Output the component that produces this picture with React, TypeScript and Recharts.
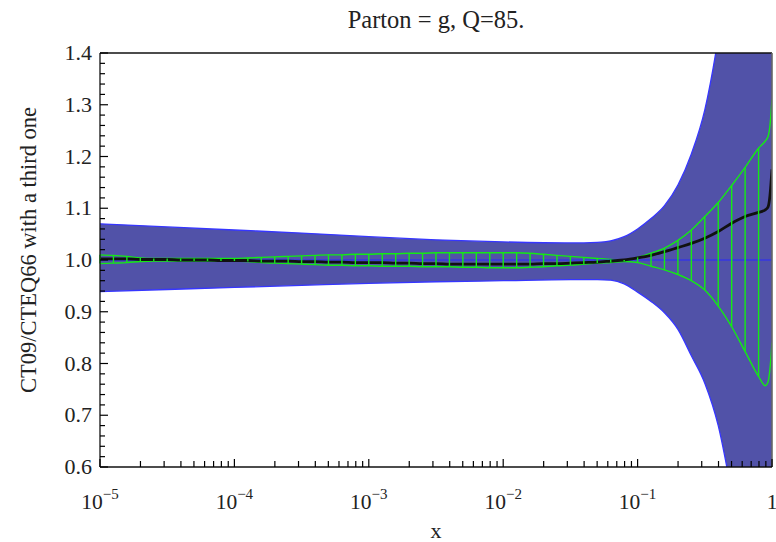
import React from 'react';
import {
  ComposedChart,
  Area,
  Line,
  Scatter,
  ErrorBar,
  XAxis,
  YAxis,
  ReferenceLine,
  Label,
} from 'recharts';

// log10(x) sample points for the green band and the central (black) curve
const logX = [
  -5.0, -4.9, -4.8, -4.7, -4.6, -4.5, -4.4, -4.3, -4.2, -4.1,
  -4.0, -3.9, -3.8, -3.7, -3.6, -3.5, -3.4, -3.3, -3.2, -3.1,
  -3.0, -2.9, -2.8, -2.7, -2.6, -2.5, -2.4, -2.3, -2.2, -2.1,
  -2.0, -1.9, -1.8, -1.7, -1.6, -1.5, -1.4, -1.3, -1.2, -1.1,
  -1.0, -0.9, -0.8, -0.7, -0.6, -0.5, -0.4, -0.3, -0.2, -0.1,
  -0.05, -0.03, -0.015, 0,
];

const greenUpper = [
  1.010, 1.009, 1.007, 1.004, 1.003, 1.003, 1.003, 1.003, 1.003, 1.003,
  1.003, 1.004, 1.005, 1.006, 1.007, 1.008, 1.009, 1.010, 1.010, 1.011,
  1.011, 1.012, 1.012, 1.013, 1.013, 1.014, 1.014, 1.014, 1.014, 1.014,
  1.014, 1.014, 1.013, 1.011, 1.009, 1.007, 1.005, 1.003, 1.001, 1.000,
  1.005, 1.013, 1.023, 1.038, 1.058, 1.084, 1.111, 1.144, 1.179, 1.216,
  1.230, 1.238, 1.260, 1.310,
];

const greenLower = [
  0.993, 0.994, 0.995, 0.997, 0.998, 0.998, 0.998, 0.998, 0.998, 0.998,
  0.998, 0.997, 0.995, 0.994, 0.993, 0.992, 0.991, 0.990, 0.990, 0.989,
  0.989, 0.988, 0.988, 0.988, 0.987, 0.987, 0.987, 0.986, 0.986, 0.985,
  0.985, 0.985, 0.986, 0.987, 0.989, 0.990, 0.992, 0.994, 0.995, 0.997,
  0.995, 0.988, 0.981, 0.972, 0.960, 0.942, 0.911, 0.871, 0.823, 0.775,
  0.757, 0.764, 0.790, 0.840,
];

const centralRatio = [
  1.002, 1.002, 1.002, 1.001, 1.001, 1.001, 1.000, 1.000, 1.000, 0.999,
  0.999, 0.999, 0.998, 0.998, 0.998, 0.997, 0.997, 0.996, 0.996, 0.995,
  0.995, 0.995, 0.994, 0.994, 0.993, 0.993, 0.992, 0.992, 0.992, 0.992,
  0.992, 0.992, 0.992, 0.993, 0.993, 0.994, 0.995, 0.996, 0.998, 1.000,
  1.004, 1.009, 1.016, 1.024, 1.032, 1.042, 1.055, 1.071, 1.084, 1.092,
  1.097, 1.102, 1.125, 1.175,
];

// blue (CTEQ66) uncertainty band
const bandLogX = [
  -5, -4.5, -4, -3.5, -3, -2.5, -2, -1.5, -1.3, -1.2, -1.1,
  -1.0, -0.9, -0.8, -0.7, -0.6, -0.5, -0.4, -0.3, -0.2, -0.1, 0,
];
const bandUpper = [
  1.070, 1.064, 1.058, 1.052, 1.045, 1.039, 1.035, 1.033, 1.034, 1.037, 1.045,
  1.060, 1.080, 1.105, 1.145, 1.205, 1.290, 1.430, 1.620, 1.880, 2.200, 2.600,
];
const bandLower = [
  0.939, 0.943, 0.947, 0.951, 0.955, 0.958, 0.960, 0.962, 0.962, 0.961, 0.954,
  0.938, 0.920, 0.898, 0.866, 0.815, 0.762, 0.680, 0.550, 0.400, 0.250, 0.100,
];

const xDecades = [-5, -4, -3, -2, -1, 0];
const xMinorMultipliers = [2, 3, 4, 5, 6, 7, 8, 9];
const yMajorTicks = [0.6, 0.7, 0.8, 0.9, 1.0, 1.1, 1.2, 1.3, 1.4];
const yMinorOffsets = [0.02, 0.04, 0.06, 0.08];

const FONT = '"Liberation Serif", "Times New Roman", serif';
const BLUE_FILL = '#5152a8';
const BLUE_EDGE = '#3636ff';
const GREEN = '#14ea14';

const bandData = bandLogX.map((lx, i) => ({ lx, range: [bandLower[i], bandUpper[i]] }));
const curveData = logX.map((lx, i) => ({
  lx,
  green: [greenLower[i], greenUpper[i]],
  central: centralRatio[i],
}));
const hatchData = logX
  .map((lx, i) => ({ lx, y: greenLower[i], err: [0, greenUpper[i] - greenLower[i]] }))
  .filter((d) => Math.abs(d.lx * 10 - Math.round(d.lx * 10)) < 1e-9 && d.lx < -0.01);

const xTicks: number[] = [];
xDecades.forEach((d) => {
  xTicks.push(d);
  if (d < 0) xMinorMultipliers.forEach((m) => xTicks.push(d + Math.log10(m)));
});
const yTicks: number[] = [];
yMajorTicks.forEach((t, i) => {
  yTicks.push(t);
  if (i < yMajorTicks.length - 1) yMinorOffsets.forEach((o) => yTicks.push(+(t + o).toFixed(2)));
});

const isInt = (v: number) => Math.abs(v - Math.round(v)) < 1e-9;

const XTick = (props: any) => {
  const { x, y, payload } = props;
  const v = payload.value;
  const major = isInt(v);
  return (
    <g>
      <line x1={x} x2={x} y1={y} y2={y - (major ? 8 : 6)} stroke="#000" strokeWidth={1.2} />
      {major && (
        <text x={x} y={y + 42} textAnchor="middle" fontFamily={FONT} fontSize={21.5} fill="#222">
          {v === 0 ? '1' : '10'}
          {v !== 0 && (
            <tspan dy={-10} fontSize={15}>
              {'\u2212' + Math.abs(Math.round(v))}
            </tspan>
          )}
        </text>
      )}
    </g>
  );
};

const YTick = (props: any) => {
  const { x, y, payload } = props;
  const v = payload.value;
  const major = isInt(v * 10);
  return (
    <g>
      <line x1={x} x2={x + (major ? 8 : 5)} y1={y} y2={y} stroke="#000" strokeWidth={1.2} />
      {major && (
        <text x={x - 8} y={y + 7} textAnchor="end" fontFamily={FONT} fontSize={22} fill="#222">
          {v.toFixed(1)}
        </text>
      )}
    </g>
  );
};

export default function App() {
  return (
    <div style={{ position: 'relative', width: 776, height: 542 }}>
      <style>{'body{margin:0}'}</style>
      <div
        style={{
          position: 'absolute',
          left: 0,
          top: 6,
          width: 872,
          textAlign: 'center',
          fontFamily: FONT,
          fontSize: 24.5,
          lineHeight: '28px',
          color: '#222',
        }}
      >
        Parton = g, Q=85.
      </div>
      <ComposedChart
        width={776}
        height={542}
        data={curveData}
        margin={{ top: 53, right: 4, bottom: 0, left: 0 }}
      >
        <Area
          data={bandData}
          dataKey="range"
          type="monotone"
          fill={BLUE_FILL}
          fillOpacity={1}
          stroke={BLUE_EDGE}
          strokeWidth={1.3}
          dot={false}
          activeDot={false}
          isAnimationActive={false}
        />
        <ReferenceLine y={1} stroke="#2828ff" strokeWidth={1} />
        <Line
          dataKey="central"
          type="monotone"
          stroke="#111"
          strokeWidth={2.8}
          dot={false}
          activeDot={false}
          isAnimationActive={false}
        />
        <Area
          dataKey="green"
          type="monotone"
          fill="none"
          stroke={GREEN}
          strokeWidth={1.4}
          dot={false}
          activeDot={false}
          isAnimationActive={false}
        />
        <Scatter data={hatchData} dataKey="y" shape={() => <g />} isAnimationActive={false}>
          <ErrorBar dataKey="err" direction="y" width={0} stroke={GREEN} strokeWidth={1.4} isAnimationActive={false} />
        </Scatter>
        <ReferenceLine y={1.4} stroke="#111" strokeWidth={1.3} />
        <ReferenceLine x={0} stroke="#666" strokeWidth={1.6} />
        <XAxis
          dataKey="lx"
          type="number"
          domain={[-5, 0]}
          allowDataOverflow
          ticks={xTicks}
          interval={0}
          tick={<XTick />}
          tickLine={false}
          tickSize={0}
          tickMargin={0}
          height={75}
          axisLine={{ stroke: '#111', strokeWidth: 1.3 }}
        >
          <Label
            content={() => (
              <text x={436} y={538} textAnchor="middle" fontFamily={FONT} fontSize={22} fill="#222">
                x
              </text>
            )}
          />
        </XAxis>
        <YAxis
          type="number"
          domain={[0.6, 1.4]}
          allowDataOverflow
          ticks={yTicks}
          interval={0}
          tick={<YTick />}
          tickLine={false}
          tickSize={0}
          tickMargin={0}
          width={100}
          axisLine={{ stroke: '#111', strokeWidth: 1.3 }}
        >
          <Label
            content={() => (
              <text
                x={36}
                y={250}
                transform="rotate(-90 36 250)"
                textAnchor="middle"
                fontFamily={FONT}
                fontSize={22.5}
                fill="#222"
              >
                CT09/CTEQ66 with a third one
              </text>
            )}
          />
        </YAxis>
      </ComposedChart>
    </div>
  );
}
